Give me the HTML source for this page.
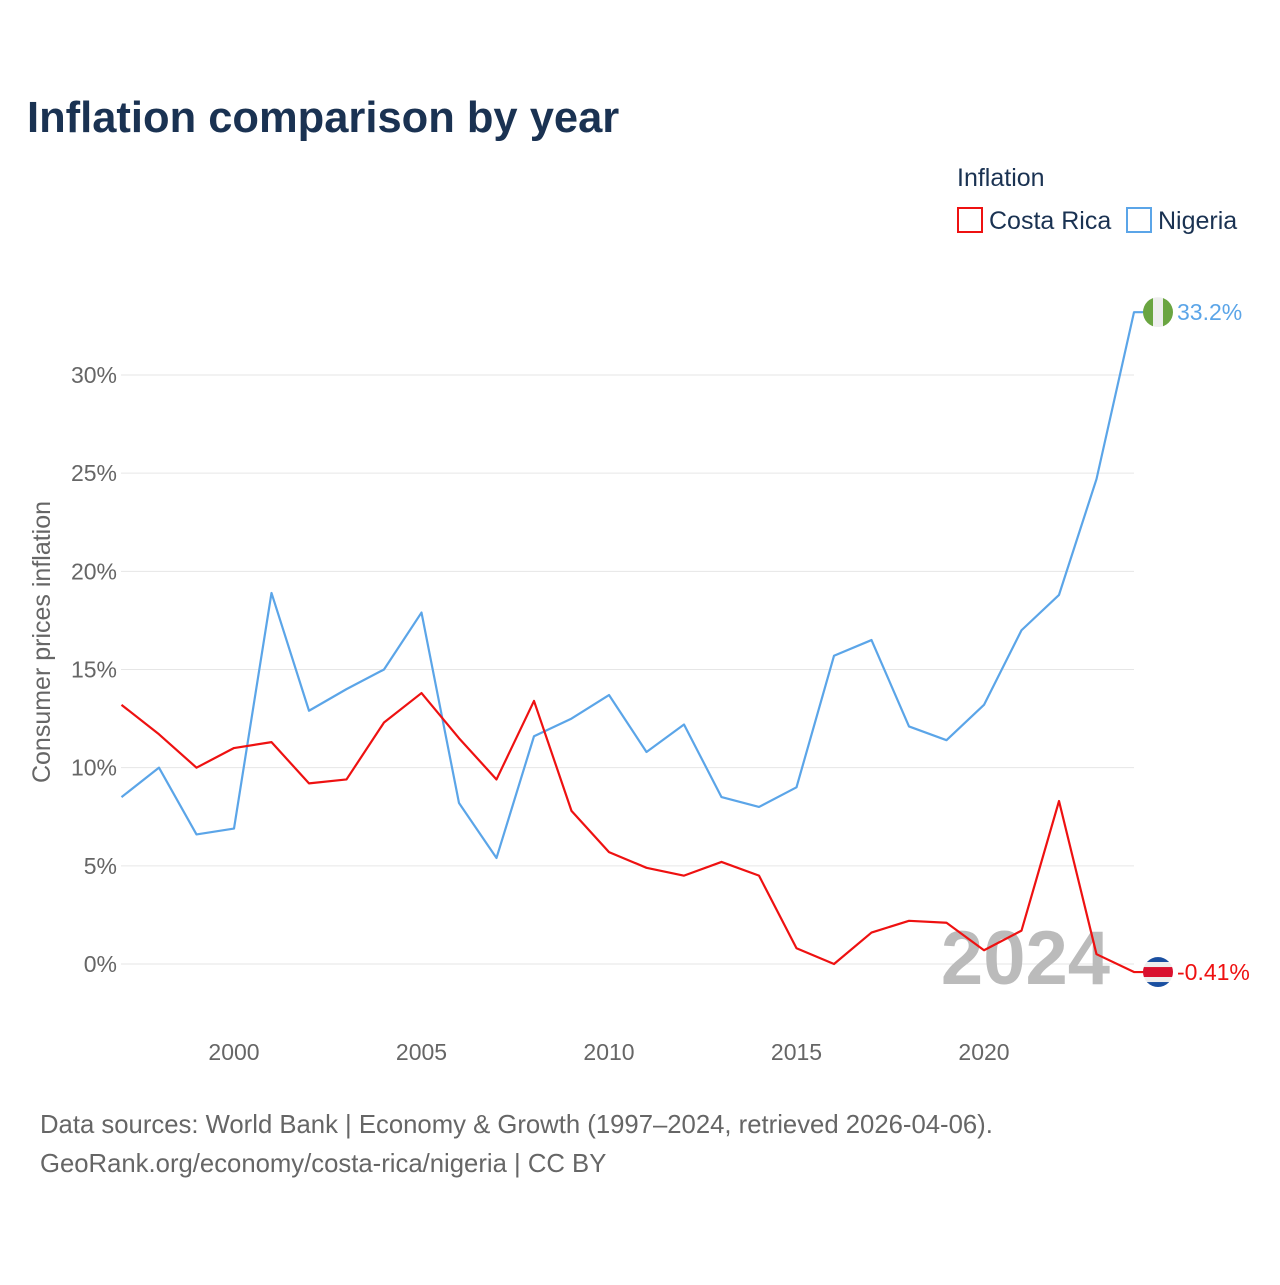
<!DOCTYPE html>
<html><head><meta charset="utf-8"><style>
body{margin:0;background:#fff;font-family:"Liberation Sans",sans-serif;}
</style></head><body>
<svg id="chart" width="1280" height="1280" xmlns="http://www.w3.org/2000/svg" font-family="Liberation Sans, sans-serif">
<rect width="1280" height="1280" fill="#fff"/>
<text x="27" y="132" font-size="43.5" font-weight="bold" fill="#1a3252">Inflation comparison by year</text>
<text x="957" y="186" font-size="25" fill="#1a3252">Inflation</text>
<g>
<rect x="958" y="208" width="24" height="24" fill="none" stroke="#ee1111" stroke-width="2"/>
<text x="989" y="229" font-size="25" fill="#1a3252">Costa Rica</text></g>
<g>
<rect x="1127" y="208" width="24" height="24" fill="none" stroke="#5ba5e8" stroke-width="2"/>
<text x="1158" y="229" font-size="25" fill="#1a3252">Nigeria</text></g>
<text transform="translate(50,642) rotate(-90)" text-anchor="middle" font-size="25" fill="#666">Consumer prices inflation</text>
<g id="grid"></g><g id="yticks"></g><g id="xticks"></g>
<text x="1110" y="984" text-anchor="end" font-size="76" font-weight="bold" fill="#bbb">2024</text>
<g id="series"></g>
<text x="40" y="1133" font-size="25.7" fill="#666">Data sources: World Bank | Economy &amp; Growth (1997–2024, retrieved 2026-04-06).</text>
<text x="40" y="1172" font-size="25.7" fill="#666">GeoRank.org/economy/costa-rica/nigeria | CC BY</text>
</svg>
<script>
const years=[1997,1998,1999,2000,2001,2002,2003,2004,2005,2006,2007,2008,2009,2010,2011,2012,2013,2014,2015,2016,2017,2018,2019,2020,2021,2022,2023,2024];
const costaRica=[13.2,11.7,10.0,11.0,11.3,9.2,9.4,12.3,13.8,11.5,9.4,13.4,7.8,5.7,4.9,4.5,5.2,4.5,0.8,0.0,1.6,2.2,2.1,0.7,1.7,8.3,0.5,-0.41];
const nigeria=[8.5,10.0,6.6,6.9,18.9,12.9,14.0,15.0,17.9,8.2,5.4,11.6,12.5,13.7,10.8,12.2,8.5,8.0,9.0,15.7,16.5,12.1,11.4,13.2,17.0,18.8,24.7,33.2];
const yTicks=[0,5,10,15,20,25,30];
const xTicks=[2000,2005,2010,2015,2020];
const NS="http://www.w3.org/2000/svg";
const X=y=>234+(y-2000)*37.5;
const Y=v=>964-v*19.633;
function mk(t,a,p){const e=document.createElementNS(NS,t);for(const k in a)e.setAttribute(k,a[k]);p.appendChild(e);return e;}
const grid=document.getElementById('grid'),yt=document.getElementById('yticks'),xt=document.getElementById('xticks'),se=document.getElementById('series');
yTicks.forEach(v=>{
const l=mk('line',{x1:121,x2:1134,y1:Y(v),y2:Y(v),stroke:'#e6e6e6','stroke-width':1},grid);


const t=mk('text',{x:117,y:Y(v)+8,'text-anchor':'end','font-size':23,fill:'#666'},yt);
t.textContent=v+'%';


});
xTicks.forEach(v=>{
const t=mk('text',{x:X(v),y:1060,'text-anchor':'middle','font-size':23,fill:'#666'},xt);
t.textContent=v;


});
function draw(vals,color,name){
const pts=vals.map((v,i)=>X(years[i])+','+Y(v));
const last=vals[vals.length-1];
pts.push((X(2024)+12)+','+Y(last));
const p=mk('polyline',{points:pts.join(' '),fill:'none',stroke:color,'stroke-width':2.2,'stroke-linejoin':'round'},se);


return Y(last);
}
const yn=draw(nigeria,'#5ba5e8','nigeria');
const yc=draw(costaRica,'#ee1111','costa-rica');
const fn=mk('g',{},se);


mk('clipPath',{id:'cn'},fn).appendChild(document.createElementNS(NS,'circle'));
const cn=fn.querySelector('circle');cn.setAttribute('cx',1158);cn.setAttribute('cy',yn);cn.setAttribute('r',15);
mk('rect',{x:1143,y:yn-15,width:10,height:30,fill:'#6aa541','clip-path':'url(#cn)'},fn);
mk('rect',{x:1153,y:yn-15,width:10,height:30,fill:'#eee','clip-path':'url(#cn)'},fn);
mk('rect',{x:1163,y:yn-15,width:10,height:30,fill:'#6aa541','clip-path':'url(#cn)'},fn);
const fc=mk('g',{},se);


mk('clipPath',{id:'cc'},fc).appendChild(document.createElementNS(NS,'circle'));
const cc=fc.querySelector('circle');cc.setAttribute('cx',1158);cc.setAttribute('cy',yc);cc.setAttribute('r',15);
[['#1a4fa0',-15,5],['#eee',-10,5],['#d9102e',-5,10],['#eee',5,5],['#1a4fa0',10,5]].forEach(s=>mk('rect',{x:1143,y:yc+s[1],width:30,height:s[2],fill:s[0],'clip-path':'url(#cc)'},fc));
const ln=mk('text',{x:1177,y:yn+8,'font-size':23,fill:'#5ba5e8'},se);
ln.textContent=nigeria[nigeria.length-1]+'%';


const lc=mk('text',{x:1177,y:yc+8,'font-size':23,fill:'#ee1111'},se);
lc.textContent=costaRica[costaRica.length-1]+'%';


</script>
</body></html>
